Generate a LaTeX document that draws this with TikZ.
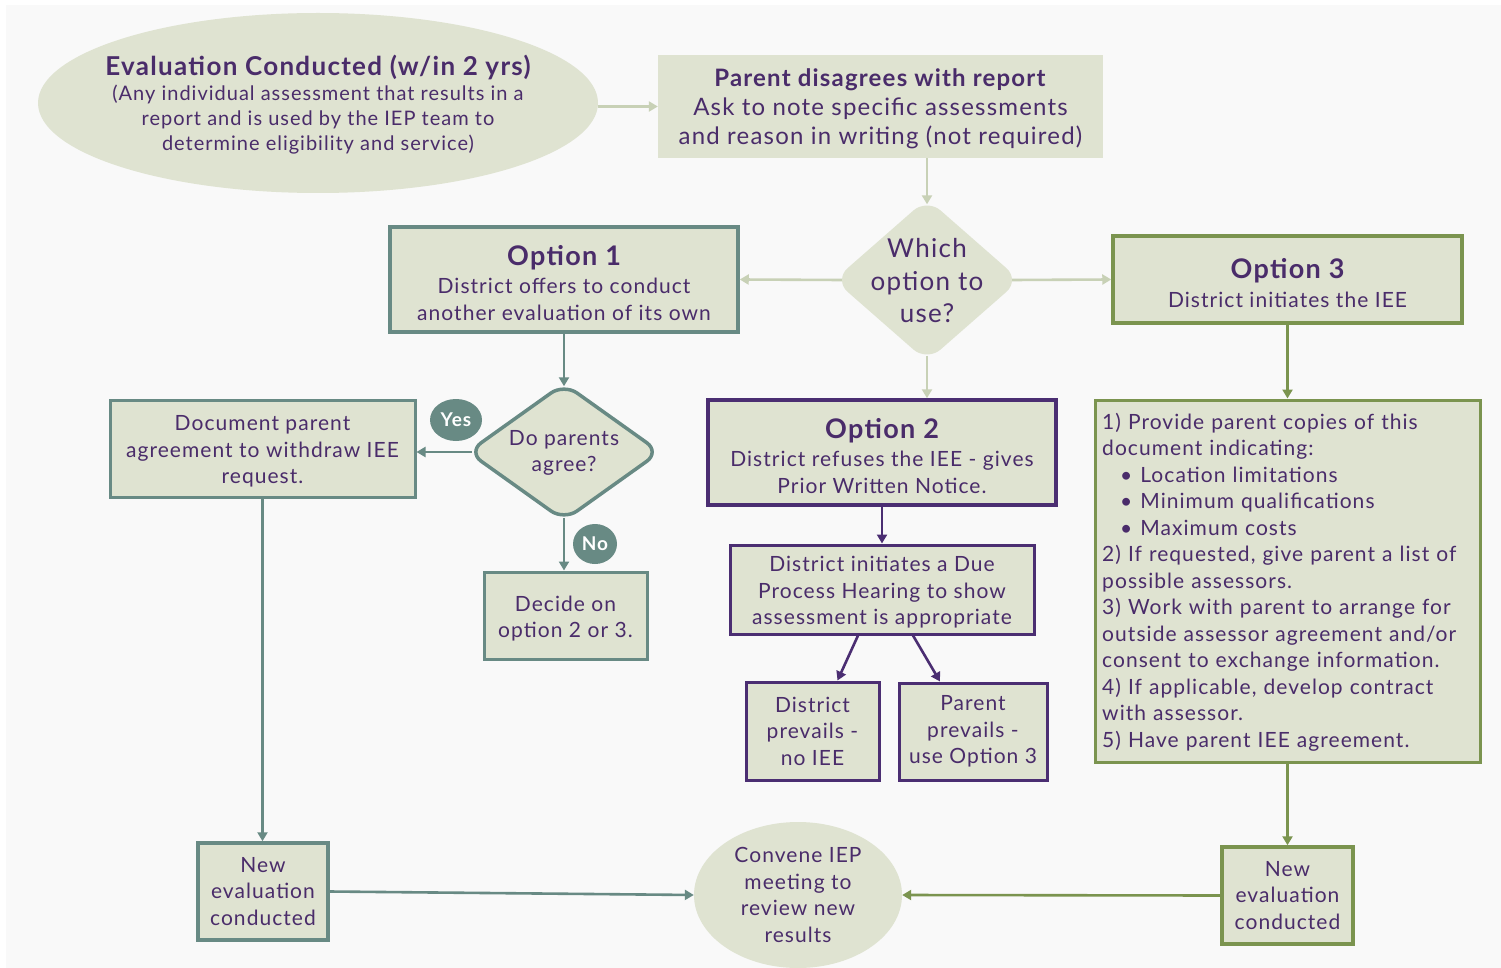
\documentclass[tikz,border=0pt]{standalone}
\usepackage{fontspec}
\setmainfont{Lato}[LetterSpace=5]
\usetikzlibrary{shapes.geometric,arrows.meta}
\definecolor{bgc}{HTML}{F9F9F9}
\definecolor{fillc}{HTML}{DFE3D1}
\definecolor{txtc}{HTML}{4A2C6A}
\definecolor{tealc}{HTML}{688A84}
\definecolor{olivec}{HTML}{7B944F}
\definecolor{purplec}{HTML}{4B2E72}
\definecolor{lightc}{HTML}{C8D1B6}
\newcommand{\topstrut}[1]{\rule{0pt}{#1}}
\begin{document}
\begin{tikzpicture}[x=1pt,y=-1pt,
  txt/.style={text=txtc, align=center, inner sep=0, font=\fontsize{21}{26.5}\selectfont},
  box/.style={rectangle, fill=fillc, inner sep=0, txt},
  tealbox/.style={box, draw=tealc, line width=3.5pt},
  olivebox/.style={box, draw=olivec, line width=3.5pt},
  purplebox/.style={box, draw=purplec, line width=3.5pt},
  diam/.style={diamond, fill=fillc, inner sep=0, rounded corners=18pt},
  tag/.style={ellipse, fill=tealc, text=white, inner sep=0, font=\fontsize{19}{19}\selectfont\bfseries},
  arr/.style={-{Triangle[length=9pt,width=10pt]}, line width=2.6pt},
  lightarr/.style={arr, draw=lightc, color=lightc},
  tealarr/.style={arr, draw=tealc, color=tealc},
  olivearr/.style={arr, draw=olivec, color=olivec},
  purplearr/.style={arr, draw=purplec, color=purplec}
]
\useasboundingbox (0,0) rectangle (1501,968);
\fill[white] (0,0) rectangle (1501,968);
\fill[bgc] (6,5) rectangle (1501,968);

% top ellipse
\node[ellipse, fill=fillc, minimum width=560, minimum height=180, inner sep=0] (eval) at (318,103) {};
\node[txt, font=\fontsize{20}{25}\selectfont] (evaltxt) at (318,105)
  {{\fontsize{26}{26}\selectfont\bfseries Evaluation Conducted (w/in 2 yrs)}\\[0pt]
   (Any individual assessment that results in a\\
   report and is used by the IEP team to\\
   determine eligibility and service)};

% parent disagrees
\node[box, minimum width=445, minimum height=103, font=\fontsize{24}{29}\selectfont] (parent) at (880.5,106.5)
  {\topstrut{23pt}\textbf{Parent disagrees with report}\\Ask to note specific assessments\\and reason in writing (not required)};

% which option diamond
\node[diam, minimum width=186, minimum height=163] (which) at (927,280) {};
\node[txt, font=\fontsize{26}{32.5}\selectfont] (whichtxt) at (927,281) {Which\\option to\\use?};

% option boxes
\node[tealbox, minimum width=348, minimum height=105] (opt1) at (564,279.5)
  {{\fontsize{27}{27}\selectfont\bfseries\topstrut{27pt}Option 1}\\[2pt]District offers to conduct\\another evaluation of its own};
\node[olivebox, minimum width=349, minimum height=87] (opt3) at (1287.5,279.5)
  {{\fontsize{27}{27}\selectfont\bfseries\topstrut{27pt}Option 3}\\[2pt]District initiates the IEE};
\node[purplebox, minimum width=348, minimum height=105] (opt2) at (882,452.5)
  {{\fontsize{27}{27}\selectfont\bfseries\topstrut{27pt}Option 2}\\[2pt]District refuses the IEE - gives\\Prior Written Notice.};

% option 2 branch
\node[purplebox, line width=3pt, minimum width=304, minimum height=89] (due) at (882,589.5)
  {\topstrut{21pt}District initiates a Due\\Process Hearing to show\\assessment is appropriate};
\node[purplebox, line width=3pt, minimum width=133, minimum height=98] (distprev) at (812.5,731)
  {District\\prevails -\\no IEE};
\node[purplebox, line width=3pt, minimum width=148, minimum height=97] (parprev) at (973,731.5)
  {Parent\\prevails -\\use Option 3};

% option 1 branch
\node[diam, draw=tealc, line width=3.5pt, minimum width=193, minimum height=138, rounded corners=16pt] (agree) at (564,452) {};
\node[txt] (agreetxt) at (564,453) {Do parents\\agree?};
\node[tealbox, line width=3pt, minimum width=305, minimum height=97] (doc) at (262.5,448.5)
  {\topstrut{21pt}Document parent\\agreement to withdraw IEE\\request.};
\node[tealbox, line width=3pt, minimum width=163, minimum height=87] (decide) at (565.5,615.5)
  {\topstrut{22pt}Decide on\\option 2 or 3.};
\node[tag, minimum width=52, minimum height=42] (yes) at (456,420) {Yes};
\node[tag, minimum width=44, minimum height=40] (no) at (595,544) {No};

% option 3 steps
\node[olivebox, line width=3pt, minimum width=385, minimum height=362] (steps) at (1287.5,581) {};
\node[txt, anchor=north west, align=left, text width=375] (stepstxt) at (1102,413)
  {1) Provide parent copies of this\\
   document indicating:\\
   \hspace*{18pt}\textbullet\hspace{8pt}Location limitations\\
   \hspace*{18pt}\textbullet\hspace{8pt}Minimum qualifications\\
   \hspace*{18pt}\textbullet\hspace{8pt}Maximum costs\\
   2) If requested, give parent a list of\\
   possible assessors.\\
   3) Work with parent to arrange for\\
   outside assessor agreement and/or\\
   consent to exchange information.\\
   4) If applicable, develop contract\\
   with assessor.\\
   5) Have parent IEE agreement.};

% bottom row
\node[tealbox, minimum width=130, minimum height=97] (newl) at (263,891.5)
  {New\\evaluation\\conducted};
\node[olivebox, minimum width=131, minimum height=97] (newr) at (1287.5,895.5)
  {New\\evaluation\\conducted};
\node[ellipse, fill=fillc, minimum width=208, minimum height=146, inner sep=0] (conv) at (798,895) {};
\node[txt] (convtxt) at (798,895) {Convene IEP\\meeting to\\review new\\results};

% connectors
\draw[lightarr] (eval.east |- parent.west) -- (parent.west);
\draw[lightarr] (which.north |- parent.south) -- ([yshift=-6pt]which.north);
\draw[lightarr] ([xshift=8pt]which.west) -- (opt1.east);
\draw[lightarr] ([xshift=-8pt]which.east) -- (opt3.west);
\draw[lightarr] ([yshift=6pt]which.south) -- (which.south |- opt2.north);

\draw[tealarr] (opt1.south) -- ([yshift=-5pt]agree.north);
\draw[tealarr] ([xshift=6pt]agree.west) -- (agree.west -| doc.east);
\draw[tealarr] ([yshift=5pt]agree.south) -- (agree.south |- decide.north);
\draw[tealarr] (doc.south) -- (doc.south |- newl.north);
\draw[tealarr] (newl.east) -- (conv.west);

\draw[purplearr] (opt2.south) -- (due.north);
\draw[purplearr] ([xshift=-24pt]due.south) -- ([xshift=25pt]distprev.north);
\draw[purplearr] ([xshift=31pt]due.south) -- ([xshift=-33pt]parprev.north);

\draw[olivearr] (opt3.south) -- (steps.north);
\draw[olivearr] (steps.south) -- (newr.north);
\draw[olivearr] (newr.west) -- (conv.east);
\end{tikzpicture}
\end{document}
